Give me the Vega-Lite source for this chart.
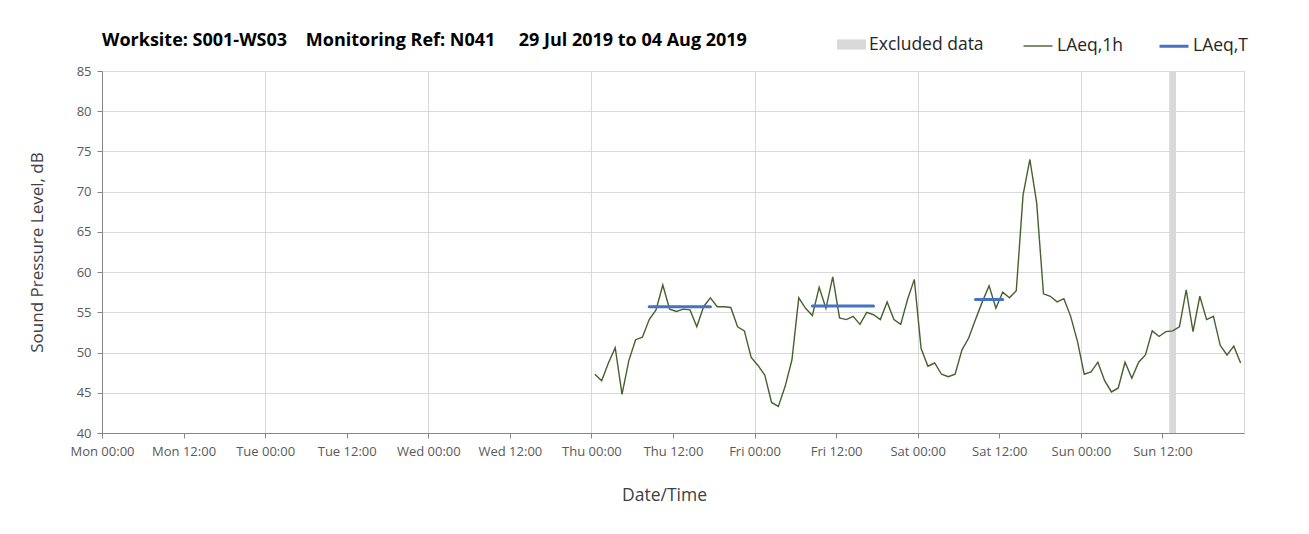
{
  "$schema": "https://vega.github.io/schema/vega-lite/v6.json",
  "width": 1142,
  "height": 362,
  "autosize": {"type": "none"},
  "padding": {"left": 102, "top": 71, "right": 65, "bottom": 101},
  "background": "white",
  "config": {
    "font": "Open Sans",
    "view": {"stroke": "#d9d9d9", "strokeWidth": 1}
  },
  "title": {
    "text": "Worksite: S001-WS03\u00a0\u00a0\u00a0\u00a0Monitoring Ref: N041\u00a0\u00a0\u00a0\u00a0\u00a029 Jul 2019 to 04 Aug 2019",
    "anchor": "start",
    "frame": "group",
    "offset": -20,
    "font": "Open Sans",
    "fontSize": 18,
    "fontWeight": "bold",
    "color": "#000000"
  },
  "datasets": {
    "hourly": [
      {"time": "2019-08-01T00:30:00Z", "LAeq": 47.3},
      {"time": "2019-08-01T01:30:00Z", "LAeq": 46.5},
      {"time": "2019-08-01T02:30:00Z", "LAeq": 48.7},
      {"time": "2019-08-01T03:30:00Z", "LAeq": 50.6},
      {"time": "2019-08-01T04:30:00Z", "LAeq": 44.8},
      {"time": "2019-08-01T05:30:00Z", "LAeq": 49.0},
      {"time": "2019-08-01T06:30:00Z", "LAeq": 51.6},
      {"time": "2019-08-01T07:30:00Z", "LAeq": 51.9},
      {"time": "2019-08-01T08:30:00Z", "LAeq": 54.1},
      {"time": "2019-08-01T09:30:00Z", "LAeq": 55.3},
      {"time": "2019-08-01T10:30:00Z", "LAeq": 58.4},
      {"time": "2019-08-01T11:30:00Z", "LAeq": 55.4},
      {"time": "2019-08-01T12:30:00Z", "LAeq": 55.1},
      {"time": "2019-08-01T13:30:00Z", "LAeq": 55.4},
      {"time": "2019-08-01T14:30:00Z", "LAeq": 55.3},
      {"time": "2019-08-01T15:30:00Z", "LAeq": 53.2},
      {"time": "2019-08-01T16:30:00Z", "LAeq": 55.7},
      {"time": "2019-08-01T17:30:00Z", "LAeq": 56.8},
      {"time": "2019-08-01T18:30:00Z", "LAeq": 55.7},
      {"time": "2019-08-01T19:30:00Z", "LAeq": 55.7},
      {"time": "2019-08-01T20:30:00Z", "LAeq": 55.6},
      {"time": "2019-08-01T21:30:00Z", "LAeq": 53.2},
      {"time": "2019-08-01T22:30:00Z", "LAeq": 52.7},
      {"time": "2019-08-01T23:30:00Z", "LAeq": 49.4},
      {"time": "2019-08-02T00:30:00Z", "LAeq": 48.4},
      {"time": "2019-08-02T01:30:00Z", "LAeq": 47.2},
      {"time": "2019-08-02T02:30:00Z", "LAeq": 43.8},
      {"time": "2019-08-02T03:30:00Z", "LAeq": 43.3},
      {"time": "2019-08-02T04:30:00Z", "LAeq": 45.8},
      {"time": "2019-08-02T05:30:00Z", "LAeq": 49.1},
      {"time": "2019-08-02T06:30:00Z", "LAeq": 56.8},
      {"time": "2019-08-02T07:30:00Z", "LAeq": 55.5},
      {"time": "2019-08-02T08:30:00Z", "LAeq": 54.6},
      {"time": "2019-08-02T09:30:00Z", "LAeq": 58.1},
      {"time": "2019-08-02T10:30:00Z", "LAeq": 55.5},
      {"time": "2019-08-02T11:30:00Z", "LAeq": 59.4},
      {"time": "2019-08-02T12:30:00Z", "LAeq": 54.3},
      {"time": "2019-08-02T13:30:00Z", "LAeq": 54.1},
      {"time": "2019-08-02T14:30:00Z", "LAeq": 54.5},
      {"time": "2019-08-02T15:30:00Z", "LAeq": 53.5},
      {"time": "2019-08-02T16:30:00Z", "LAeq": 55.0},
      {"time": "2019-08-02T17:30:00Z", "LAeq": 54.7},
      {"time": "2019-08-02T18:30:00Z", "LAeq": 54.1},
      {"time": "2019-08-02T19:30:00Z", "LAeq": 56.3},
      {"time": "2019-08-02T20:30:00Z", "LAeq": 54.1},
      {"time": "2019-08-02T21:30:00Z", "LAeq": 53.5},
      {"time": "2019-08-02T22:30:00Z", "LAeq": 56.6},
      {"time": "2019-08-02T23:30:00Z", "LAeq": 59.1},
      {"time": "2019-08-03T00:30:00Z", "LAeq": 50.5},
      {"time": "2019-08-03T01:30:00Z", "LAeq": 48.3},
      {"time": "2019-08-03T02:30:00Z", "LAeq": 48.7},
      {"time": "2019-08-03T03:30:00Z", "LAeq": 47.3},
      {"time": "2019-08-03T04:30:00Z", "LAeq": 47.0},
      {"time": "2019-08-03T05:30:00Z", "LAeq": 47.3},
      {"time": "2019-08-03T06:30:00Z", "LAeq": 50.3},
      {"time": "2019-08-03T07:30:00Z", "LAeq": 51.8},
      {"time": "2019-08-03T08:30:00Z", "LAeq": 54.1},
      {"time": "2019-08-03T09:30:00Z", "LAeq": 56.3},
      {"time": "2019-08-03T10:30:00Z", "LAeq": 58.3},
      {"time": "2019-08-03T11:30:00Z", "LAeq": 55.5},
      {"time": "2019-08-03T12:30:00Z", "LAeq": 57.5},
      {"time": "2019-08-03T13:30:00Z", "LAeq": 56.8},
      {"time": "2019-08-03T14:30:00Z", "LAeq": 57.7},
      {"time": "2019-08-03T15:30:00Z", "LAeq": 69.6},
      {"time": "2019-08-03T16:30:00Z", "LAeq": 74.0},
      {"time": "2019-08-03T17:30:00Z", "LAeq": 68.6},
      {"time": "2019-08-03T18:30:00Z", "LAeq": 57.3},
      {"time": "2019-08-03T19:30:00Z", "LAeq": 57.0},
      {"time": "2019-08-03T20:30:00Z", "LAeq": 56.3},
      {"time": "2019-08-03T21:30:00Z", "LAeq": 56.7},
      {"time": "2019-08-03T22:30:00Z", "LAeq": 54.5},
      {"time": "2019-08-03T23:30:00Z", "LAeq": 51.4},
      {"time": "2019-08-04T00:30:00Z", "LAeq": 47.3},
      {"time": "2019-08-04T01:30:00Z", "LAeq": 47.6},
      {"time": "2019-08-04T02:30:00Z", "LAeq": 48.8},
      {"time": "2019-08-04T03:30:00Z", "LAeq": 46.5},
      {"time": "2019-08-04T04:30:00Z", "LAeq": 45.1},
      {"time": "2019-08-04T05:30:00Z", "LAeq": 45.6},
      {"time": "2019-08-04T06:30:00Z", "LAeq": 48.8},
      {"time": "2019-08-04T07:30:00Z", "LAeq": 46.8},
      {"time": "2019-08-04T08:30:00Z", "LAeq": 48.8},
      {"time": "2019-08-04T09:30:00Z", "LAeq": 49.7},
      {"time": "2019-08-04T10:30:00Z", "LAeq": 52.7},
      {"time": "2019-08-04T11:30:00Z", "LAeq": 52.0},
      {"time": "2019-08-04T12:30:00Z", "LAeq": 52.6},
      {"time": "2019-08-04T13:30:00Z", "LAeq": 52.7},
      {"time": "2019-08-04T14:30:00Z", "LAeq": 53.2},
      {"time": "2019-08-04T15:30:00Z", "LAeq": 57.8},
      {"time": "2019-08-04T16:30:00Z", "LAeq": 52.6},
      {"time": "2019-08-04T17:30:00Z", "LAeq": 57.0},
      {"time": "2019-08-04T18:30:00Z", "LAeq": 54.1},
      {"time": "2019-08-04T19:30:00Z", "LAeq": 54.5},
      {"time": "2019-08-04T20:30:00Z", "LAeq": 50.9},
      {"time": "2019-08-04T21:30:00Z", "LAeq": 49.7},
      {"time": "2019-08-04T22:30:00Z", "LAeq": 50.8},
      {"time": "2019-08-04T23:30:00Z", "LAeq": 48.7}
    ],
    "periods": [
      {"start": "2019-08-01T08:30:00Z", "end": "2019-08-01T17:30:00Z", "LAeqT": 55.7},
      {"start": "2019-08-02T08:30:00Z", "end": "2019-08-02T17:30:00Z", "LAeqT": 55.8},
      {"start": "2019-08-03T08:30:00Z", "end": "2019-08-03T12:30:00Z", "LAeqT": 56.6}
    ],
    "excluded": [
      {"start": "2019-08-04T13:00:00Z", "end": "2019-08-04T14:00:00Z"}
    ]
  },
  "encoding": {
    "x": {
      "type": "temporal",
      "scale": {
        "type": "utc",
        "domain": [
          {"year": 2019, "month": "jul", "date": 29, "hours": 0, "utc": true},
          {"year": 2019, "month": "aug", "date": 5, "hours": 0, "utc": true}
        ],
        "nice": false
      },
      "axis": {
        "title": "Date/Time",
        "values": [
          {"year": 2019, "month": "jul", "date": 29, "hours": 0, "utc": true},
          {"year": 2019, "month": "jul", "date": 29, "hours": 12, "utc": true},
          {"year": 2019, "month": "jul", "date": 30, "hours": 0, "utc": true},
          {"year": 2019, "month": "jul", "date": 30, "hours": 12, "utc": true},
          {"year": 2019, "month": "jul", "date": 31, "hours": 0, "utc": true},
          {"year": 2019, "month": "jul", "date": 31, "hours": 12, "utc": true},
          {"year": 2019, "month": "aug", "date": 1, "hours": 0, "utc": true},
          {"year": 2019, "month": "aug", "date": 1, "hours": 12, "utc": true},
          {"year": 2019, "month": "aug", "date": 2, "hours": 0, "utc": true},
          {"year": 2019, "month": "aug", "date": 2, "hours": 12, "utc": true},
          {"year": 2019, "month": "aug", "date": 3, "hours": 0, "utc": true},
          {"year": 2019, "month": "aug", "date": 3, "hours": 12, "utc": true},
          {"year": 2019, "month": "aug", "date": 4, "hours": 0, "utc": true},
          {"year": 2019, "month": "aug", "date": 4, "hours": 12, "utc": true}
        ],
        "labelExpr": "utcFormat(datum.value, '%a %H:%M')",
        "labelFont": "Open Sans",
        "labelFontSize": 13,
        "labelColor": "#595959",
        "labelPadding": 7,
        "labelOverlap": false,
        "labelFlush": false,
        "tickColor": "#868686",
        "tickSize": 5,
        "domainColor": "#868686",
        "grid": true,
        "gridColor": {"condition": {"test": "utchours(datum.value) == 0", "value": "#d9d9d9"}, "value": "transparent"},
        "titleFont": "Open Sans",
        "titleFontSize": 17.5,
        "titleFontWeight": "normal",
        "titleColor": "#404040",
        "titlePadding": 28,
        "titleX": 562
      }
    }
  },
  "layer": [
    {
      "data": {"name": "excluded"},
      "mark": {"type": "rect", "opacity": 1},
      "encoding": {
        "x": {"field": "start", "type": "temporal"},
        "x2": {"field": "end"},
        "fill": {
          "datum": "Excluded data",
          "type": "nominal",
          "scale": {"domain": ["Excluded data"], "range": ["#d9d9d9"]},
          "legend": {
            "title": null,
            "orient": "none",
            "legendX": 735,
            "legendY": -41,
            "padding": 0,
            "symbolType": "M-1,-0.35H1V0.35H-1Z",
            "symbolSize": 841,
            "symbolStrokeWidth": 0,
            "labelFont": "Open Sans",
            "labelFontSize": 17.5,
            "labelColor": "#262626",
            "labelOffset": 3,
            "labelLimit": 300
          }
        }
      }
    },
    {
      "data": {"name": "hourly"},
      "mark": {"type": "line"},
      "encoding": {
        "x": {"field": "time", "type": "temporal"},
        "y": {
          "field": "LAeq",
          "type": "quantitative",
          "scale": {"domain": [40, 85], "nice": false, "zero": false},
          "axis": {
            "title": "Sound Pressure Level, dB",
            "values": [40, 45, 50, 55, 60, 65, 70, 75, 80, 85],
            "labelFont": "Open Sans",
            "labelFontSize": 13,
            "labelColor": "#595959",
            "labelPadding": 6,
            "tickColor": "#868686",
            "tickSize": 5,
            "domainColor": "#868686",
            "gridColor": "#d9d9d9",
            "titleFont": "Open Sans",
            "titleFontSize": 17,
            "titleFontWeight": "normal",
            "titleColor": "#404040",
            "titlePadding": 30
          }
        },
        "stroke": {
          "datum": "LAeq,1h",
          "type": "nominal",
          "scale": {"domain": ["LAeq,1h", "LAeq,T"], "range": ["#45612d", "#4472c4"]},
          "legend": {
            "title": null,
            "orient": "none",
            "legendX": 920,
            "legendY": -41,
            "direction": "horizontal",
            "columns": 2,
            "gridAlign": "each",
            "columnPadding": 29,
            "padding": 0,
            "symbolType": "stroke",
            "symbolSize": 841,
            "labelFont": "Open Sans",
            "labelFontSize": 17.5,
            "labelColor": "#262626",
            "labelOffset": 3,
            "labelLimit": 300
          }
        },
        "strokeWidth": {
          "datum": "LAeq,1h",
          "type": "nominal",
          "scale": {"type": "point", "domain": ["LAeq,1h", "LAeq,T"], "range": [1.4, 3], "padding": 0}
        }
      }
    },
    {
      "data": {"name": "periods"},
      "mark": {"type": "rule", "strokeCap": "round"},
      "encoding": {
        "x": {"field": "start", "type": "temporal"},
        "x2": {"field": "end"},
        "y": {"field": "LAeqT", "type": "quantitative"},
        "stroke": {"datum": "LAeq,T", "type": "nominal"},
        "strokeWidth": {"datum": "LAeq,T", "type": "nominal"}
      }
    }
  ]
}
